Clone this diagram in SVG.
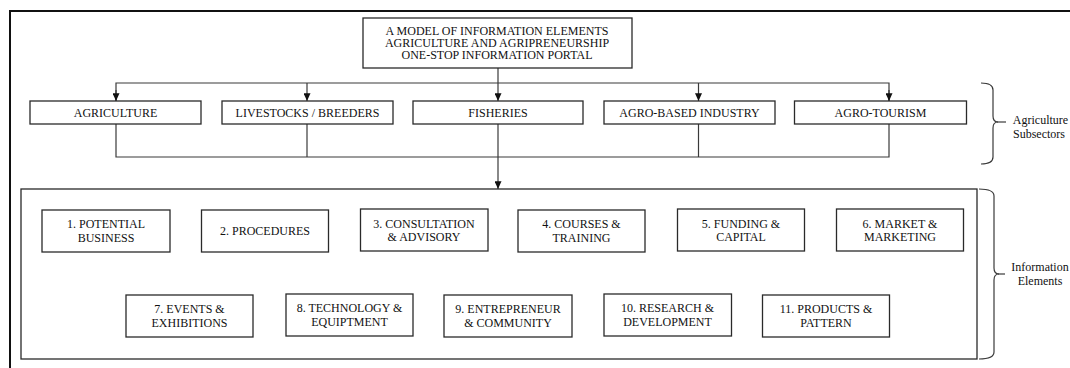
<svg xmlns="http://www.w3.org/2000/svg" width="1070" height="368" viewBox="0 0 1070 368">
<defs>
<style>
.bx{fill:#fff;stroke:#2a2a2a;stroke-width:1.3}
.ln{fill:none;stroke:#3a3a3a;stroke-width:1.2}
.t{font-family:"Liberation Serif","Times New Roman",serif;font-size:12px;fill:#111;text-anchor:middle}
.s{font-family:"Liberation Serif","Times New Roman",serif;font-size:12px;fill:#111;text-anchor:middle}
</style>
<marker id="ad" viewBox="0 0 8 9" refX="4" refY="9" markerWidth="7" markerHeight="9" markerUnits="userSpaceOnUse" orient="0">
<path d="M0,0 L8,0 L4,9 Z" fill="#111"/>
</marker>
</defs>
<rect width="1070" height="368" fill="#fff"/>
<rect x="10" y="11" width="1100" height="400" fill="none" stroke="#111" stroke-width="2"/>

<g id="connectors">
<path class="ln" d="M116,101 V83 H889 V101"/>
<path class="ln" d="M307,83 V101" marker-end="url(#ad)"/>
<path class="ln" d="M698.5,83 V101" marker-end="url(#ad)"/>
<path class="ln" d="M116,90 V101" marker-end="url(#ad)"/>
<path class="ln" d="M889,90 V101" marker-end="url(#ad)"/>
<path class="ln" d="M498,68 V101" marker-end="url(#ad)"/>
<path class="ln" d="M116,124 V157 H889 V124"/>
<path class="ln" d="M307,124 V157"/>
<path class="ln" d="M698.5,124 V157"/>
<path class="ln" d="M498,124 V189" marker-end="url(#ad)"/>
</g>

<g id="title">
<rect class="bx" x="363" y="18" width="269" height="50"/>
<text class="t" x="497" y="35">A MODEL OF INFORMATION ELEMENTS</text>
<text class="t" x="497" y="47">AGRICULTURE AND AGRIPRENEURSHIP</text>
<text class="t" x="497" y="59">ONE-STOP INFORMATION PORTAL</text>
</g>

<g id="agriculture"><rect class="bx" x="30" y="101" width="171" height="23"/><text class="t" x="115.5" y="117">AGRICULTURE</text></g>
<g id="livestocks"><rect class="bx" x="222" y="101" width="171" height="23"/><text class="t" x="307.5" y="117">LIVESTOCKS / BREEDERS</text></g>
<g id="fisheries"><rect class="bx" x="413" y="101" width="170" height="23"/><text class="t" x="498" y="117">FISHERIES</text></g>
<g id="agro-based"><rect class="bx" x="604" y="101" width="171" height="23"/><text class="t" x="689.5" y="117">AGRO-BASED INDUSTRY</text></g>
<g id="agro-tourism"><rect class="bx" x="794.5" y="101" width="172" height="23"/><text class="t" x="880.5" y="117">AGRO-TOURISM</text></g>

<g id="information-elements"><rect class="bx" x="21" y="189" width="956" height="170"/></g>

<g id="e1"><rect class="bx" x="42" y="210" width="128" height="42"/><text class="t" x="106" y="228">1. POTENTIAL</text><text class="t" x="106" y="241.5">BUSINESS</text></g>
<g id="e2"><rect class="bx" x="201.5" y="210" width="127" height="42"/><text class="t" x="265" y="235">2. PROCEDURES</text></g>
<g id="e3"><rect class="bx" x="360.5" y="209" width="127.5" height="42"/><text class="t" x="424" y="227.5">3. CONSULTATION</text><text class="t" x="424" y="241">&amp; ADVISORY</text></g>
<g id="e4"><rect class="bx" x="518" y="210" width="127" height="42"/><text class="t" x="581.5" y="228">4. COURSES &amp;</text><text class="t" x="581.5" y="241.5">TRAINING</text></g>
<g id="e5"><rect class="bx" x="677.5" y="209" width="127" height="42"/><text class="t" x="741" y="227.5">5. FUNDING &amp;</text><text class="t" x="741" y="241">CAPITAL</text></g>
<g id="e6"><rect class="bx" x="836.5" y="209" width="127" height="42"/><text class="t" x="900" y="227.5">6. MARKET &amp;</text><text class="t" x="900" y="241">MARKETING</text></g>

<g id="e7"><rect class="bx" x="126" y="295" width="127" height="42"/><text class="t" x="189.5" y="313">7. EVENTS &amp;</text><text class="t" x="189.5" y="327">EXHIBITIONS</text></g>
<g id="e8"><rect class="bx" x="286" y="294" width="127" height="42"/><text class="t" x="349.5" y="312">8. TECHNOLOGY &amp;</text><text class="t" x="349.5" y="326">EQUIPTMENT</text></g>
<g id="e9"><rect class="bx" x="444" y="295" width="128" height="42"/><text class="t" x="508" y="313">9. ENTREPRENEUR</text><text class="t" x="508" y="327">&amp; COMMUNITY</text></g>
<g id="e10"><rect class="bx" x="604" y="294" width="127.5" height="42"/><text class="t" x="667.5" y="312">10. RESEARCH &amp;</text><text class="t" x="667.5" y="326">DEVELOPMENT</text></g>
<g id="e11"><rect class="bx" x="762.5" y="295" width="127" height="42"/><text class="t" x="826" y="313">11. PRODUCTS &amp;</text><text class="t" x="826" y="327">PATTERN</text></g>

<g id="brace-subsectors">
<path class="ln" d="M981,83 Q993,83 993,90 V116 Q993,122 998,122 Q993,122 993,128 V157 Q993,164 981,164"/>
<path class="ln" d="M997,122 H1006"/>
<text class="s" x="1040.5" y="124">Agriculture</text>
<text class="s" x="1039" y="137.5">Subsectors</text>
</g>
<g id="brace-information">
<path class="ln" d="M979,189 Q994,189 994,196 V268 Q994,274 999,274 Q994,274 994,280 V352 Q994,359 979,359"/>
<path class="ln" d="M998,274 H1005"/>
<text class="s" x="1040" y="271">Information</text>
<text class="s" x="1040" y="285">Elements</text>
</g>
</svg>
